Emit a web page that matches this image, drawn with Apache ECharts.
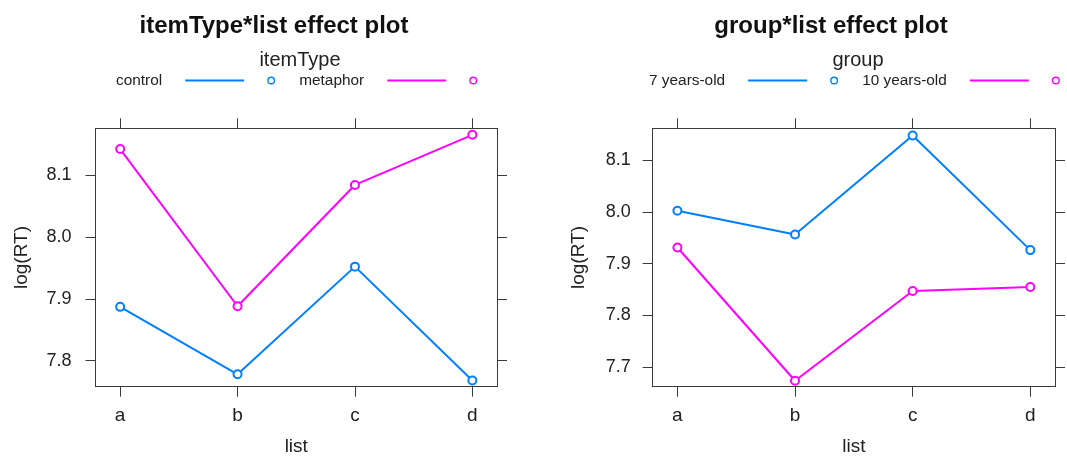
<!DOCTYPE html>
<html>
<head>
<meta charset="utf-8">
<script src="https://cdn.jsdelivr.net/npm/echarts@6/dist/echarts.min.js"></script>
<style>
html,body{margin:0;padding:0;background:#fff;}
#chart{width:1067px;height:463px;}
</style>
</head>
<body>
<div id="chart"></div>
<script>
// ---- data ----
const categories = ['a', 'b', 'c', 'd'];
const controlVals = [7.887, 7.778, 7.952, 7.768];
const metaphorVals = [8.142, 7.888, 8.084, 8.165];
const age7Vals = [8.002, 7.956, 8.147, 7.926];
const age10Vals = [7.931, 7.674, 7.847, 7.855];
const yTicksLeft = [7.8, 7.9, 8.0, 8.1];
const yTicksRight = [7.7, 7.8, 7.9, 8.0, 8.1];
const xTicks = [0, 1, 2, 3];

const BLUE = '#0080ff', MAG = '#ff00ff', FRAME = '#3a3a3a', TXT = '#222';
const FONT = '"Liberation Sans", Arial, Helvetica, sans-serif';

const chart = echarts.init(document.getElementById('chart'), null, {renderer: 'canvas'});

const toPts = vals => vals.map((v, i) => [i, v]);

function xAxes(gridIndex) {
  return [
    {
      type: 'value', gridIndex, position: 'bottom', min: -0.21, max: 3.21,
      name: 'list', nameLocation: 'middle', nameGap: 51,
      nameTextStyle: {fontSize: 19, color: TXT, fontFamily: FONT},
      axisLine: {show: true, onZero: false, lineStyle: {color: FRAME, width: 1}},
      axisTick: {show: true, inside: false, length: 10, customValues: xTicks, lineStyle: {color: FRAME}},
      axisLabel: {show: true, customValues: xTicks, margin: 20, fontSize: 19, color: TXT, fontFamily: FONT,
        formatter: v => categories[Math.round(v)] || ''},
      splitLine: {show: false}
    },
    {
      type: 'value', gridIndex, position: 'top', min: -0.21, max: 3.21,
      axisLine: {show: true, onZero: false, lineStyle: {color: FRAME, width: 1}},
      axisTick: {show: true, inside: false, length: 10, customValues: xTicks, lineStyle: {color: FRAME}},
      axisLabel: {show: false},
      splitLine: {show: false}
    }
  ];
}

function yAxes(gridIndex, min, max, ticks, labelMargin) {
  return [
    {
      type: 'value', gridIndex, position: 'left', min, max,
      name: 'log(RT)', nameLocation: 'middle', nameGap: 64,
      nameTextStyle: {fontSize: 19, color: TXT, fontFamily: FONT},
      axisLine: {show: true, onZero: false, lineStyle: {color: FRAME, width: 1}},
      axisTick: {show: true, inside: false, length: 10, customValues: ticks, lineStyle: {color: FRAME}},
      axisLabel: {show: true, customValues: ticks, margin: labelMargin, fontSize: 18, color: TXT, fontFamily: FONT,
        formatter: v => v.toFixed(1)},
      splitLine: {show: false}
    },
    {
      type: 'value', gridIndex, position: 'right', min, max,
      axisLine: {show: true, onZero: false, lineStyle: {color: FRAME, width: 1}},
      axisTick: {show: true, inside: false, length: 10, customValues: ticks, lineStyle: {color: FRAME}},
      axisLabel: {show: false},
      splitLine: {show: false}
    }
  ];
}

function lineSeries(name, vals, color, xi, yi) {
  return {
    type: 'line', name, data: toPts(vals), xAxisIndex: xi, yAxisIndex: yi,
    symbol: 'emptyCircle', symbolSize: 8, showSymbol: true,
    lineStyle: {color, width: 2},
    itemStyle: {color, borderColor: color, borderWidth: 2},
    emphasis: {disabled: true}, animation: false, z: 3
  };
}

const ICON = 'path://M0 4L0.3 4L0.3 4.02L0 4.02Z M18 3L77 3L77 5L18 5Z M100 4A4 4 0 1 0 108 4A4 4 0 1 0 100 4Z M101.4 4A2.6 2.6 0 1 1 106.6 4A2.6 2.6 0 1 1 101.4 4Z';

function legend(data, left) {
  return {
    data, left, top: 73, width: 460, orient: 'horizontal', align: 'right',
    icon: ICON, itemWidth: 108, itemHeight: 8, itemGap: 24,
    itemStyle: {borderWidth: 0},
    textStyle: {fontSize: 15.4, color: TXT, fontFamily: FONT},
    selectedMode: false, padding: 0
  };
}

const option = {
  animation: false,
  backgroundColor: '#fff',
  title: [
    {text: 'itemType*list effect plot', left: 269, top: 9, textAlign: 'center',
     textStyle: {fontSize: 24, fontWeight: 'bold', color: '#111', fontFamily: FONT}},
    {text: 'group*list effect plot', left: 826, top: 9, textAlign: 'center',
     textStyle: {fontSize: 24, fontWeight: 'bold', color: '#111', fontFamily: FONT}},
    {text: 'itemType', left: 295, top: 45, textAlign: 'center',
     textStyle: {fontSize: 20, fontWeight: 'normal', color: TXT, fontFamily: FONT}},
    {text: 'group', left: 853, top: 45, textAlign: 'center',
     textStyle: {fontSize: 20, fontWeight: 'normal', color: TXT, fontFamily: FONT}}
  ],
  legend: [legend(['control', 'metaphor'], 116), legend(['7 years-old', '10 years-old'], 649)],
  grid: [
    {left: 95.5, right: 570, top: 128.3, bottom: 76.3, containLabel: false},
    {left: 652.7, right: 12, top: 128.3, bottom: 76.3, containLabel: false}
  ],
  xAxis: [...xAxes(0), ...xAxes(1)],
  yAxis: [...yAxes(0, 7.758, 8.1755, yTicksLeft, 24), ...yAxes(1, 7.6625, 8.161, yTicksRight, 22)],
  series: [
    lineSeries('control', controlVals, BLUE, 0, 0),
    lineSeries('metaphor', metaphorVals, MAG, 0, 0),
    lineSeries('7 years-old', age7Vals, BLUE, 2, 2),
    lineSeries('10 years-old', age10Vals, MAG, 2, 2)
  ]
};
chart.setOption(option);
</script>
</body>
</html>
